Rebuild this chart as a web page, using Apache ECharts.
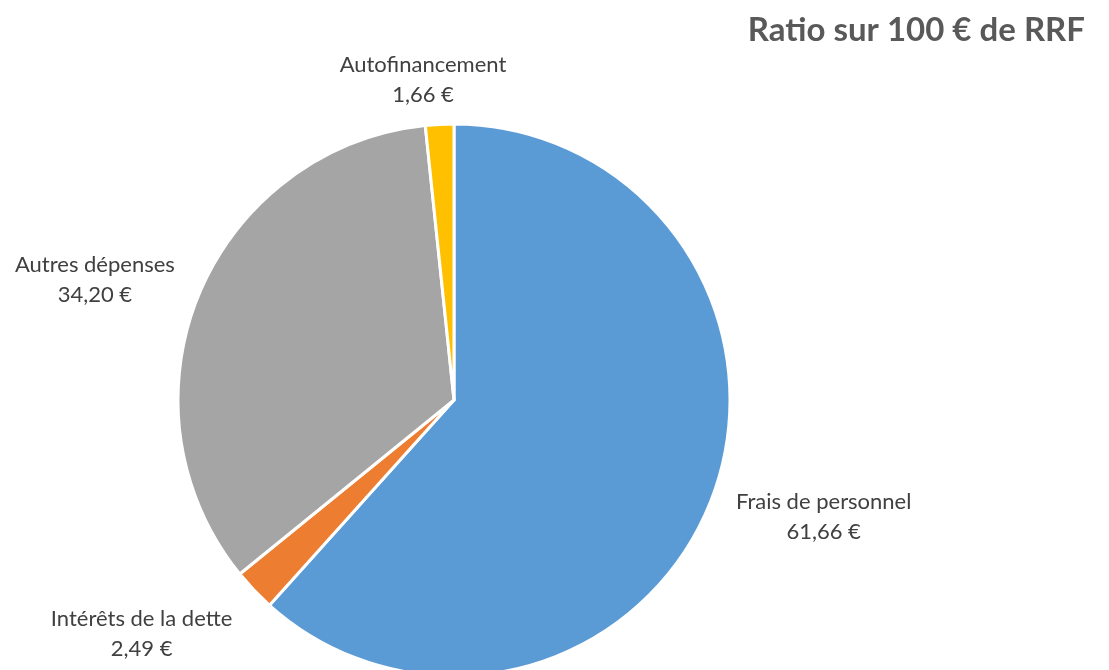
<!DOCTYPE html>
<html>
<head>
<meta charset="utf-8">
<script src="https://cdn.jsdelivr.net/npm/echarts@6/dist/echarts.min.js"></script>
<style>
  html, body { margin: 0; padding: 0; background: #ffffff; }
  #chart { width: 1109px; height: 670px; }
</style>
</head>
<body>
<div id="chart"></div>
<script>
// Ratio des dépenses sur 100 € de recettes réelles de fonctionnement
const categories = ['Frais de personnel', 'Intérêts de la dette', 'Autres dépenses', 'Autofinancement'];
const values = [61.66, 2.49, 34.20, 1.66];
const colors = ['#5B9BD5', '#ED7D31', '#A5A5A5', '#FFC000'];

const fmt = v => v.toFixed(2).replace('.', ',') + ' €';

// small per-label shifts away from the default outside placement
const labelShift = [
  { dy: 14 },
  { dy: 35 },
  { dy: -10 },
  { dy: -32, dx: -3, align: 'center' }
];

const chart = echarts.init(document.getElementById('chart'));
chart.setOption({
  animation: false,
  title: {
    text: 'Ratio sur 100 € de RRF',
    right: 19,
    top: 9,
    textStyle: { fontFamily: 'Lato', fontWeight: 'bold', fontSize: 33, color: '#595959' }
  },
  series: [{
    type: 'pie',
    center: [454, 400],
    radius: 276,
    startAngle: 90,
    clockwise: true,
    data: categories.map((name, i) => ({ name, value: values[i], itemStyle: { color: colors[i] } })),
    itemStyle: { borderColor: '#ffffff', borderWidth: 3 },
    label: {
      show: true,
      position: 'outside',
      formatter: p => '{t|' + p.name + '}\n{t|' + fmt(p.value) + '}',
      rich: {
        t: { fontFamily: 'Lato', fontSize: 22, lineHeight: 30, color: '#404040', align: 'center' }
      }
    },
    labelLine: { show: false, length: 12, length2: 8 },
    labelLayout: p => labelShift[p.dataIndex],
    emphasis: { disabled: true }
  }]
});
</script>
</body>
</html>
